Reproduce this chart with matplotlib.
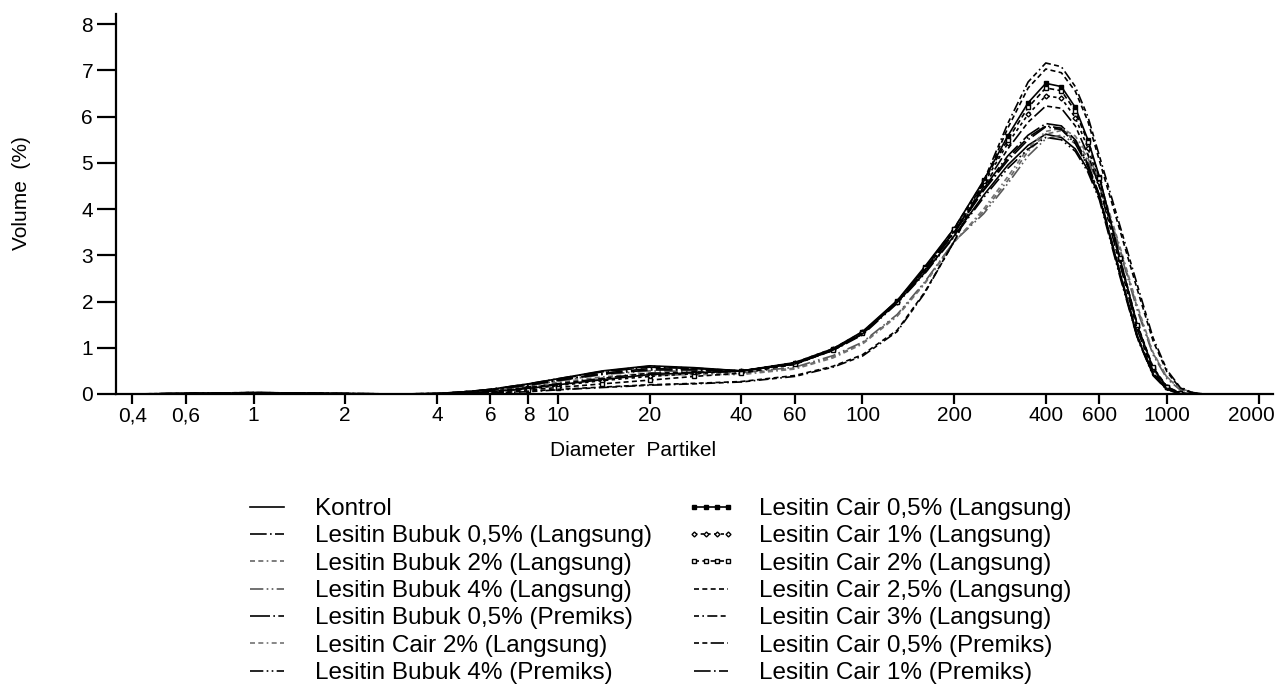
import numpy as np
import matplotlib
matplotlib.use("Agg")
import matplotlib.pyplot as plt
import matplotlib.transforms as mtransforms

plt.rcParams['font.family'] = ['Liberation Sans', 'DejaVu Sans']

# ============ Data ==========================================

diameter = [0.4, 0.7, 1, 1.5, 2, 3, 4, 5, 6, 8, 10, 14, 20, 28, 40, 60, 80,
            100, 130, 160, 200, 250, 300, 350, 400, 450, 500, 550, 600, 700,
            800, 900, 1000, 1100, 1200, 1300]

kontrol = [0, 0.02, 0.03, 0.02, 0.01, 0, 0.01, 0.05, 0.1, 0.22, 0.33, 0.5, 0.61, 0.57, 0.5, 0.66, 0.95,
           1.3, 1.98, 2.62, 3.42, 4.3, 4.95, 5.38, 5.62, 5.55, 5.3, 4.85, 4.25, 2.6,
           1.22, 0.42, 0.1, 0.01, 0, 0]
bubuk05_l = [0, 0.01, 0.03, 0.02, 0.01, 0, 0.01, 0.04, 0.09, 0.2, 0.3, 0.45, 0.55, 0.53, 0.5, 0.65, 0.95,
             1.3, 2.0, 2.68, 3.5, 4.42, 5.1, 5.55, 5.8, 5.75, 5.45, 4.95, 4.3, 2.65,
             1.25, 0.45, 0.12, 0.02, 0, 0]
bubuk2_l = [0, 0.01, 0.02, 0.01, 0, 0, 0, 0.03, 0.07, 0.16, 0.25, 0.37, 0.45, 0.45, 0.44, 0.56, 0.8,
            1.1, 1.7, 2.4, 3.3, 3.95, 4.62, 5.25, 5.62, 5.7, 5.5, 5.1, 4.55, 3.15,
            1.85, 0.88, 0.36, 0.12, 0.04, 0.01]
bubuk4_l = [0, 0.01, 0.02, 0.01, 0, 0, 0.01, 0.04, 0.08, 0.18, 0.28, 0.42, 0.5, 0.49, 0.46, 0.58, 0.83,
            1.12, 1.72, 2.42, 3.3, 3.9, 4.55, 5.15, 5.52, 5.6, 5.42, 5.05, 4.5, 3.1,
            1.8, 0.85, 0.33, 0.1, 0.03, 0]
bubuk05_p = [0, 0.02, 0.03, 0.02, 0.01, 0, 0.01, 0.05, 0.1, 0.21, 0.32, 0.48, 0.58, 0.55, 0.5, 0.66, 0.96,
             1.32, 2.02, 2.7, 3.52, 4.45, 5.15, 5.6, 5.85, 5.8, 5.5, 4.98, 4.3, 2.62,
             1.22, 0.42, 0.1, 0.01, 0, 0]
cair2_l_b = [0, 0.01, 0.02, 0.01, 0, 0, 0, 0.03, 0.06, 0.14, 0.22, 0.33, 0.4, 0.42, 0.42, 0.54, 0.78,
             1.08, 1.68, 2.38, 3.28, 4.0, 4.7, 5.32, 5.68, 5.75, 5.58, 5.18, 4.62, 3.2,
             1.9, 0.9, 0.37, 0.13, 0.04, 0.01]
bubuk4_p = [0, 0.02, 0.03, 0.02, 0.01, 0, 0.01, 0.05, 0.1, 0.22, 0.33, 0.49, 0.6, 0.56, 0.5, 0.65, 0.94,
            1.28, 1.96, 2.6, 3.4, 4.25, 4.88, 5.3, 5.55, 5.5, 5.25, 4.8, 4.2, 2.55,
            1.2, 0.4, 0.09, 0.01, 0, 0]
cair05_l = [0, 0.01, 0.02, 0.01, 0, 0, 0, 0.02, 0.05, 0.12, 0.2, 0.31, 0.42, 0.46, 0.5, 0.68, 0.98,
            1.35, 2.02, 2.75, 3.58, 4.62, 5.58, 6.3, 6.72, 6.65, 6.2, 5.5, 4.7, 2.95,
            1.48, 0.56, 0.15, 0.02, 0, 0]
cair1_l = [0, 0.01, 0.02, 0.01, 0, 0, 0, 0.02, 0.05, 0.11, 0.18, 0.29, 0.38, 0.44, 0.5, 0.68, 0.98,
           1.34, 2.0, 2.72, 3.55, 4.55, 5.42, 6.05, 6.45, 6.4, 5.98, 5.32, 4.58, 2.9,
           1.45, 0.55, 0.15, 0.02, 0, 0]
cair2_l = [0, 0.01, 0.01, 0.01, 0, 0, 0, 0.02, 0.04, 0.09, 0.14, 0.22, 0.3, 0.38, 0.45, 0.64, 0.95,
           1.32, 2.0, 2.72, 3.58, 4.6, 5.5, 6.2, 6.62, 6.56, 6.12, 5.45, 4.68, 2.95,
           1.5, 0.58, 0.16, 0.03, 0, 0]
cair25_l = [0, 0, 0.01, 0, 0, 0, 0, 0.01, 0.02, 0.06, 0.1, 0.15, 0.2, 0.23, 0.27, 0.4, 0.6,
            0.85, 1.38, 2.2, 3.3, 4.55, 5.75, 6.62, 7.03, 6.95, 6.55, 5.9, 5.05, 3.55,
            2.25, 1.15, 0.48, 0.14, 0.03, 0]
cair3_l = [0, 0, 0.01, 0, 0, 0, 0, 0.01, 0.02, 0.05, 0.09, 0.14, 0.19, 0.22, 0.26, 0.38, 0.58,
           0.82, 1.35, 2.18, 3.3, 4.6, 5.85, 6.75, 7.16, 7.08, 6.65, 6.0, 5.15, 3.65,
           2.35, 1.22, 0.52, 0.16, 0.04, 0]
cair05_p = [0, 0.01, 0.02, 0.01, 0, 0, 0, 0.03, 0.06, 0.14, 0.22, 0.34, 0.45, 0.47, 0.49, 0.66, 0.96,
            1.32, 1.98, 2.68, 3.5, 4.48, 5.3, 5.88, 6.23, 6.18, 5.8, 5.18, 4.48, 2.82,
            1.38, 0.5, 0.13, 0.02, 0, 0]
cair1_p = [0, 0.01, 0.03, 0.02, 0.01, 0, 0.01, 0.04, 0.09, 0.19, 0.29, 0.43, 0.52, 0.52, 0.5, 0.65, 0.95,
           1.3, 2.0, 2.66, 3.48, 4.4, 5.05, 5.5, 5.78, 5.72, 5.42, 4.92, 4.28, 2.62,
           1.24, 0.44, 0.11, 0.01, 0, 0]

labels = ["Kontrol",
          "Lesitin Bubuk 0,5% (Langsung)",
          "Lesitin Bubuk 2% (Langsung)",
          "Lesitin Bubuk 4% (Langsung)",
          "Lesitin Bubuk 0,5% (Premiks)",
          "Lesitin Cair 2% (Langsung)",
          "Lesitin Bubuk 4% (Premiks)",
          "Lesitin Cair 0,5% (Langsung)",
          "Lesitin Cair 1% (Langsung)",
          "Lesitin Cair 2% (Langsung)",
          "Lesitin Cair 2,5% (Langsung)",
          "Lesitin Cair 3% (Langsung)",
          "Lesitin Cair 0,5% (Premiks)",
          "Lesitin Cair 1% (Premiks)"]

series = [kontrol, bubuk05_l, bubuk2_l, bubuk4_l, bubuk05_p, cair2_l_b, bubuk4_p,
          cair05_l, cair1_l, cair2_l, cair25_l, cair3_l, cair05_p, cair1_p]

xticks = [0.4, 0.6, 1, 2, 4, 6, 8, 10, 20, 40, 60, 100, 200, 400, 600, 1000, 2000]
xticklabels = ["0,4", "0,6", "1", "2", "4", "6", "8", "10", "20", "40", "60",
               "100", "200", "400", "600", "1000", "2000"]
yticks = [0, 1, 2, 3, 4, 5, 6, 7, 8]

# ============ Styles ===================

mk = slice(7, 34)
styles = [
    dict(ls='-', color='black'),
    dict(ls=(0, (10, 2, 1, 2)), color='black'),
    dict(ls=(0, (3, 2, 3, 2, 1, 2)), color='0.4'),
    dict(ls=(0, (8, 2, 1, 2, 1, 2)), color='0.35'),
    dict(ls=(0, (12, 2, 1, 2)), color='black'),
    dict(ls=(0, (3, 2, 3, 2, 1, 2)), color='0.45'),
    dict(ls=(0, (8, 2, 1, 2, 1, 2)), color='black'),
    dict(ls='-', color='black', marker='s', ms=3, mfc='black', markevery=mk),
    dict(ls=(0, (2, 2)), color='black', marker='D', ms=2.5, mfc='white', markevery=mk),
    dict(ls=(0, (3, 2)), color='black', marker='s', ms=3, mfc='white', markevery=mk),
    dict(ls=(0, (3, 2)), color='black'),
    dict(ls=(0, (3, 2, 1, 2, 6, 2)), color='black'),
    dict(ls=(0, (3, 2, 3, 2, 8, 2)), color='black'),
    dict(ls=(0, (10, 2, 1, 2)), color='black'),
]

# ============ Figure ===================

W, H = 1279, 686
fig = plt.figure(figsize=(W / 100, H / 100), dpi=100)
ax = fig.add_axes([116 / W, 1 - 394 / H, (1273 - 116) / W, 380 / H])

for y, lab, st in zip(series, labels, styles):
    ax.plot(diameter, y, lw=1.2, label=lab, **st)

ax.set_xscale('log')
ax.set_xlim(0.3535, 2230)
ax.set_ylim(0, 8.22)
ax.set_xticks(xticks, xticklabels)
ax.minorticks_off()
ax.set_yticks(yticks)

for s in ['top', 'right']:
    ax.spines[s].set_visible(False)
for s in ['left', 'bottom']:
    ax.spines[s].set_linewidth(1.6)

ax.tick_params(axis='x', length=7, width=1.6, pad=2, labelsize=15)
ax.tick_params(axis='y', length=13.5, width=1.6, pad=3, labelsize=15)

# pull the last tick label a little inside the figure
last = ax.get_xticklabels()[-1]
last.set_transform(last.get_transform() +
                   mtransforms.ScaledTranslation(-7 / 100, 0, fig.dpi_scale_trans))

fig.text(633 / W, 1 - 450 / H, "Diameter  Partikel", ha='center', va='center', fontsize=15)
fig.text(22 / W, 1 - 193 / H, "Volume  (%)", ha='center', va='center',
         rotation=90, fontsize=15)

handles, labs = ax.get_legend_handles_labels()
fig.legend(handles, labs, ncol=2, loc='upper left',
           bbox_to_anchor=(243 / W, 1 - 498 / H),
           frameon=False, fontsize=17.5, numpoints=4,
           handlelength=2.0, handletextpad=0.95, columnspacing=1.45,
           labelspacing=0.22, borderpad=0, borderaxespad=0)

plt.savefig("out.png", dpi=100)
